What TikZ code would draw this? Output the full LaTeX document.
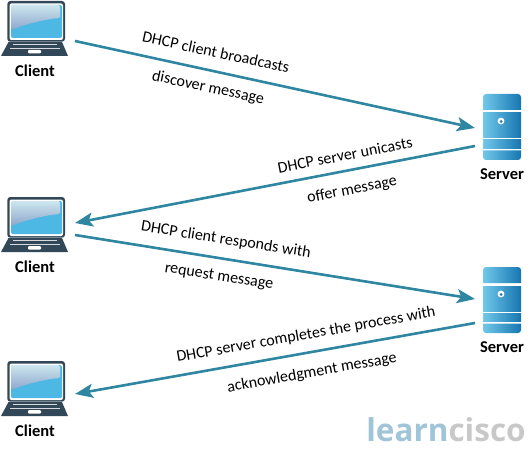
\documentclass[tikz,border=0pt]{standalone}
\usepackage{fontspec}
\setmainfont{Carlito}
\newfontfamily\logofont{Open Sans}
\usetikzlibrary{arrows.meta,positioning}
\definecolor{dhcpTeal}{RGB}{46,134,160}
\definecolor{dhcpDark}{RGB}{50,72,88}
\definecolor{dhcpSky}{RGB}{78,184,228}
\definecolor{dhcpPale}{RGB}{205,230,238}
\definecolor{dhcpDusk}{RGB}{140,166,204}
\definecolor{dhcpRackL}{RGB}{112,200,234}
\definecolor{dhcpRackR}{RGB}{22,118,176}
\definecolor{logoBlue}{RGB}{160,196,216}
\definecolor{logoGrey}{RGB}{200,200,200}
\tikzset{
  laptop/.pic={
    \fill[dhcpDark, rounded corners=3pt] (-30.7,-27) rectangle (27,13.7);
    \fill[white, rounded corners=2pt] (-28.5,-24.5) rectangle (25,12);
    \fill[dhcpSky, rounded corners=1.5pt] (-27,-23) rectangle (24,10);
    \shade[top color=dhcpPale, bottom color=dhcpDusk, rounded corners=1.5pt] (-27,2) -- (-27,-23) -- (22,-23) -- (22,-10) .. controls (8,-9) and (-12,-4) .. (-27,2) -- cycle;
    \fill[dhcpDark] (-29.5,14) -- (-37,28) -- (30,28) -- (24,14) -- cycle;
    \draw[white!80!dhcpDark, line width=0.8pt] (-25,16.3) -- (19,16.3);
    \draw[white!80!dhcpDark, line width=0.8pt] (-28,20.7) -- (22,20.7);
    \fill[white, rounded corners=1pt] (-10,22) rectangle (3,25.5);
  },
  rack/.pic={
    \shade[left color=dhcpRackL, right color=dhcpRackR] (-19,-17) [rounded corners=3pt] -- (-19,-33) -- (19,-33) [sharp corners] -- (19,-17) -- cycle;
    \shade[left color=dhcpRackL, right color=dhcpRackR] (-19,-14) rectangle (19,11);
    \shade[left color=dhcpRackL, right color=dhcpRackR] (-19,13) rectangle (19,21.5);
    \shade[left color=dhcpRackL, right color=dhcpRackR] (-19,23.5) [rounded corners=3pt] -- (-19,33) -- (19,33) [sharp corners] -- (19,23.5) -- cycle;
    \fill[white] (-1,-6) circle (3.4);
    \fill[dhcpRackR] (-1,-5.5) circle (1.5);
  }
}
\begin{document}
\begin{tikzpicture}[
    x=1pt, y=-1pt,
    node distance=7.5pt,
    icon/.style={minimum width=74pt, minimum height=56pt, inner sep=0pt, outer sep=0pt},
    serverbay/.style={minimum width=54pt, minimum height=66pt, inner sep=0pt, outer sep=0pt},
    devname/.style={font=\bfseries\fontsize{16.5}{18}\selectfont, inner sep=1pt},
    msg/.style={font=\fontsize{16}{18}\selectfont, inner sep=1pt},
    arrow/.style={-{Stealth[length=18pt, width=14pt, inset=4pt]}, line width=2.6pt, dhcpTeal}
  ]
    \useasboundingbox (0,0) rectangle (532,449);
    \node[icon] (c1) at (38,28) {};
    \node[icon] (c2) at (38,224) {};
    \node[icon] (c3) at (38,388) {};
    \node[serverbay] (s1) at (502,127) {};
    \node[serverbay] (s2) at (502,300) {};
    \pic at (c1) {laptop};
    \pic at (c2) {laptop};
    \pic at (c3) {laptop};
    \pic at (s1) {rack};
    \pic at (s2) {rack};
    \node[devname, below=of c1, xshift=-3pt] (c1name) {Client};
    \node[devname, below=of c2, xshift=-3pt] (c2name) {Client};
    \node[devname, below=of c3, xshift=-3pt] (c3name) {Client};
    \node[devname, below=of s1] (s1name) {Server};
    \node[devname, below=of s2] (s2name) {Server};
    \draw[arrow] ([yshift=-13pt]c1.east) -- ([yshift=-1pt]s1.west);
    \draw[arrow] ([yshift=-19pt]s1.west) -- ([yshift=1pt]c2.east);
    \draw[arrow] ([yshift=-11pt]c2.east) -- ([yshift=1pt]s2.west);
    \draw[arrow] ([yshift=-23pt]s2.west) -- ([yshift=-6pt]c3.east);
    \node[msg, rotate=-12] (m1a) at (216,52) {DHCP client broadcasts};
    \node[msg, rotate=-12] (m1b) at (208,88) {discover message};
    \node[msg, rotate=11] (m2a) at (345,155) {DHCP server unicasts};
    \node[msg, rotate=11] (m2b) at (352,190) {offer message};
    \node[msg, rotate=-9] (m3a) at (226,240) {DHCP client responds with};
    \node[msg, rotate=-9] (m3b) at (219,277) {request message};
    \node[msg, rotate=10] (m4a) at (306,335) {DHCP server completes the process with};
    \node[msg, rotate=10] (m4b) at (312,373) {acknowledgment message};
    \node[font=\logofont\bfseries\fontsize{31.5}{34}\selectfont, inner sep=0pt] (logo) at (446,430) {\textcolor{logoBlue}{learn}\textcolor{logoGrey}{cisco}};
  \end{tikzpicture}
\end{document}
